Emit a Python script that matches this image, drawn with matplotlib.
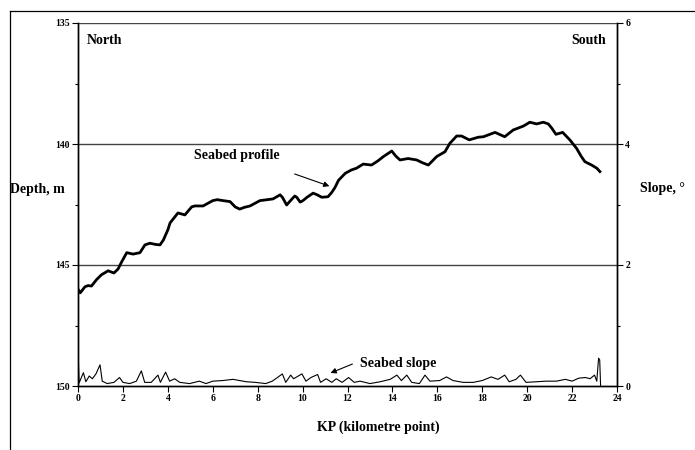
import matplotlib
matplotlib.use('Agg')
import matplotlib.pyplot as plt
from matplotlib.lines import Line2D
from matplotlib.ticker import MultipleLocator

plt.rcParams['font.family'] = ['Liberation Serif', 'DejaVu Serif']
plt.rcParams['font.weight'] = 'bold'

# seabed profile (KP km, depth m)
prof_kp = [0.0, 0.1, 0.31, 0.45, 0.6, 0.83, 1.05, 1.34, 1.6, 1.78, 1.95, 2.17, 2.45, 2.76,
           2.98, 3.2, 3.45, 3.65, 3.8, 4.0, 4.1, 4.45, 4.76, 5.06, 5.2, 5.57, 6.0, 6.2,
           6.46, 6.77, 7.0, 7.2, 7.4, 7.66, 8.1, 8.68, 9.0, 9.1, 9.29, 9.5, 9.65, 9.74,
           9.89, 10.0, 10.2, 10.47, 10.65, 10.85, 11.13, 11.3, 11.44, 11.6, 11.9, 12.18,
           12.4, 12.7, 13.07, 13.35, 13.6, 13.97, 14.15, 14.34, 14.7, 15.08, 15.35, 15.6,
           15.97, 16.34, 16.56, 16.86, 17.08, 17.42, 17.82, 18.05, 18.57, 19.0, 19.38,
           19.83, 20.12, 20.42, 20.72, 20.94, 21.1, 21.28, 21.58, 21.9, 22.2, 22.4, 22.57,
           22.87, 23.1, 23.24]
prof_depth = [146.0, 146.15, 145.9, 145.85, 145.87, 145.6, 145.4, 145.24, 145.33, 145.17,
              144.86, 144.49, 144.55, 144.49, 144.17, 144.1, 144.15, 144.17, 143.97, 143.55,
              143.26, 142.85, 142.93, 142.6, 142.56, 142.56, 142.34, 142.3, 142.34, 142.38,
              142.6, 142.69, 142.62, 142.56, 142.34, 142.27, 142.1, 142.2, 142.52, 142.3,
              142.15, 142.2, 142.4, 142.35, 142.2, 142.03, 142.1, 142.2, 142.18, 142.0,
              141.8, 141.5, 141.21, 141.07, 141.0, 140.83, 140.87, 140.7, 140.52, 140.29,
              140.5, 140.66, 140.6, 140.66, 140.78, 140.87, 140.52, 140.32, 139.97, 139.67,
              139.67, 139.83, 139.72, 139.7, 139.52, 139.7, 139.42, 139.26, 139.1, 139.17,
              139.1, 139.17, 139.35, 139.6, 139.52, 139.83, 140.18, 140.5, 140.73, 140.87,
              141.0, 141.14]

# seabed slope (KP km, degrees)
slope_kp = [0.0, 0.05, 0.24, 0.35, 0.5, 0.64, 0.8, 0.98, 1.08, 1.3, 1.6, 1.85, 2.0, 2.3,
            2.6, 2.82, 2.97, 3.26, 3.56, 3.67, 3.9, 4.08, 4.3, 4.53, 4.97, 5.4, 5.7, 6.0,
            6.44, 6.9, 7.2, 7.5, 7.9, 8.36, 8.65, 8.88, 9.1, 9.25, 9.47, 9.6, 9.97, 10.15,
            10.37, 10.67, 10.8, 11.05, 11.3, 11.5, 11.76, 12.05, 12.3, 12.56, 13.0, 13.45,
            13.9, 14.2, 14.4, 14.64, 14.86, 15.2, 15.45, 15.67, 16.1, 16.41, 16.7, 17.15,
            17.6, 18.0, 18.4, 18.7, 19.0, 19.2, 19.5, 19.7, 19.95, 20.4, 20.85, 21.3, 21.7,
            22.0, 22.3, 22.6, 22.8, 23.0, 23.1, 23.18, 23.23, 23.27]
slope_deg = [0.6, 0.05, 0.22, 0.07, 0.165, 0.12, 0.2, 0.35, 0.08, 0.04, 0.06, 0.14, 0.06,
             0.04, 0.08, 0.25, 0.06, 0.06, 0.18, 0.06, 0.23, 0.08, 0.12, 0.06, 0.04, 0.08,
             0.04, 0.08, 0.09, 0.11, 0.09, 0.07, 0.06, 0.04, 0.08, 0.14, 0.2, 0.06, 0.18,
             0.12, 0.2, 0.08, 0.14, 0.19, 0.06, 0.12, 0.06, 0.12, 0.06, 0.14, 0.06, 0.08,
             0.04, 0.07, 0.11, 0.18, 0.09, 0.18, 0.06, 0.04, 0.18, 0.08, 0.09, 0.15, 0.09,
             0.06, 0.06, 0.09, 0.15, 0.11, 0.18, 0.07, 0.11, 0.18, 0.06, 0.07, 0.08, 0.08,
             0.11, 0.08, 0.13, 0.14, 0.12, 0.18, 0.08, 0.46, 0.43, 0.0]

W, H = 695, 450
fig = plt.figure(figsize=(6.95, 4.5), dpi=100)
ax = fig.add_axes([78 / W, 1 - 386 / H, (617 - 78) / W, (386 - 23) / H])
ax2 = ax.twinx()

ax.plot(prof_kp, prof_depth, color='black', lw=2.0, solid_joinstyle='round', zorder=3)
ax2.plot(slope_kp, slope_deg, color='black', lw=0.8)

ax.set_xlim(0, 24)
ax.set_ylim(150, 135)
ax2.set_ylim(0, 6)
ax.xaxis.set_major_locator(MultipleLocator(2))
ax.yaxis.set_major_locator(MultipleLocator(5))
ax.yaxis.set_minor_locator(MultipleLocator(2.5))
ax2.yaxis.set_major_locator(MultipleLocator(2))
ax2.yaxis.set_minor_locator(MultipleLocator(1))

for y in (135, 140, 145):
    ax.axhline(y, color='#444444', lw=1.0, zorder=1)
ax.spines['top'].set_visible(False)
ax2.spines['top'].set_visible(False)
for a in (ax, ax2):
    for s in a.spines.values():
        s.set_linewidth(1.0)
        s.set_color('black')

ax.tick_params(axis='both', which='major', direction='out', length=4, width=0.8,
               labelsize=7, pad=2)
ax.tick_params(axis='y', which='minor', direction='out', length=2, width=0.8)
ax2.tick_params(axis='y', which='major', direction='out', length=4, width=0.8,
                labelsize=7, pad=2)
ax2.tick_params(axis='y', which='minor', direction='out', length=2, width=0.8)
for lab in ax.get_xticklabels() + ax.get_yticklabels() + ax2.get_yticklabels():
    lab.set_fontweight('bold')

ax.text(87 / W, 1 - 40 / H, 'North', transform=fig.transFigure, fontsize=10,
        ha='left', va='center')
ax.text(606 / W, 1 - 40 / H, 'South', transform=fig.transFigure, fontsize=10,
        ha='right', va='center')
fig.text(10 / W, 1 - 190 / H, 'Depth, m', fontsize=10, ha='left', va='center')
fig.text(640 / W, 1 - 189 / H, 'Slope, \u00b0', fontsize=10, ha='left', va='center')
fig.text(378 / W, 1 - 427 / H, 'KP (kilometre point)', fontsize=10, ha='center', va='center')

arrow = dict(arrowstyle='-|>', color='black', lw=0.8, mutation_scale=8)
ax.annotate('', xy=(11.31, 141.78), xytext=(9.53, 141.2), arrowprops=arrow)
ax.text(194 / W, 1 - 156 / H, 'Seabed profile', transform=fig.transFigure,
        fontsize=10, ha='left', va='center')
ax2.annotate('', xy=((328 - 78) / 22.46, (386 - 374) / 60.5),
             xytext=((355 - 78) / 22.46, (386 - 363) / 60.5), arrowprops=arrow)
ax2.text(360 / W, 1 - 363 / H, 'Seabed slope', transform=fig.transFigure,
         fontsize=10, ha='left', va='center')

# outer chart frame
fig.add_artist(Line2D([10 / W, 1], [1 - 11 / H, 1 - 11 / H], color='black', lw=0.9,
                      transform=fig.transFigure))
fig.add_artist(Line2D([10 / W, 10 / W], [0, 1 - 11 / H], color='black', lw=0.9,
                      transform=fig.transFigure))

fig.savefig('out.png', dpi=100)
